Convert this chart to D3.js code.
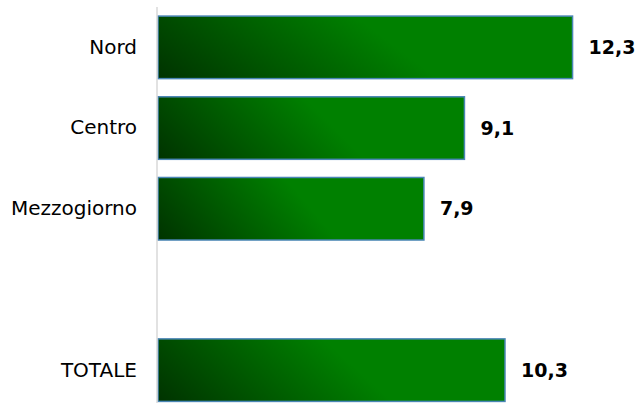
<!DOCTYPE html>
<html>
<head>
<meta charset="utf-8">
<script src="https://cdn.jsdelivr.net/npm/d3@7"></script>
<style>
  html, body { margin: 0; padding: 0; background: #ffffff; }
  svg { display: block; }
</style>
</head>
<body>
<div id="chart"></div>
<script>
const categories = ["Nord", "Centro", "Mezzogiorno", "", "TOTALE"];
const values = [12.3, 9.1, 7.9, null, 10.3];
const valueLabels = ["12,3", "9,1", "7,9", "", "10,3"];

const W = 638, H = 403;
const svg = d3.select("#chart").append("svg")
  .attr("width", W).attr("height", H);

const defs = svg.append("defs");
const grad = defs.append("linearGradient")
  .attr("id", "barGrad")
  .attr("x1", 0).attr("y1", 1)
  .attr("x2", 0.65).attr("y2", 0.87);
grad.append("stop").attr("offset", "0%").attr("stop-color", "#003300");
grad.append("stop").attr("offset", "100%").attr("stop-color", "#008000");

const x = d3.scaleLinear().domain([0, 14]).range([157, 630]);
const y = d3.scaleBand().domain(categories)
  .range([7, 410.5])
  .paddingInner(0.225)
  .paddingOuter(0.1125);

const data = categories.map((c, i) => ({ c, v: values[i], lab: valueLabels[i] }));

// bars
svg.append("g").selectAll("rect")
  .data(data.filter(d => d.v != null))
  .join("rect")
  .attr("x", x(0) + 1)
  .attr("y", d => y(d.c))
  .attr("width", d => x(d.v) - x(0) - 1)
  .attr("height", y.bandwidth())
  .attr("fill", "url(#barGrad)")
  .attr("stroke", "#4a86b5")
  .attr("stroke-width", 1.5);

// axis line (category axis)
const yAxis = d3.axisLeft(y).tickSize(0).tickPadding(20);
const ag = svg.append("g")
  .attr("transform", `translate(${x(0)},0)`)
  .call(yAxis);
ag.select(".domain").attr("stroke", "#d9d9d9").attr("stroke-width", 1.5)
  .attr("d", `M0,7V${H + 10}`);
ag.selectAll("text")
  .attr("font-family", "DejaVu Sans")
  .attr("font-size", 20)
  .attr("fill", "#000");

// value labels
svg.append("g").selectAll("text")
  .data(data.filter(d => d.v != null))
  .join("text")
  .attr("x", d => x(d.v) + 16)
  .attr("y", d => y(d.c) + y.bandwidth() / 2)
  .attr("dy", "0.35em")
  .attr("font-family", "DejaVu Sans")
  .attr("font-weight", "bold")
  .attr("font-size", 19)
  .attr("fill", "#000")
  .text(d => d.lab);
</script>
</body>
</html>
